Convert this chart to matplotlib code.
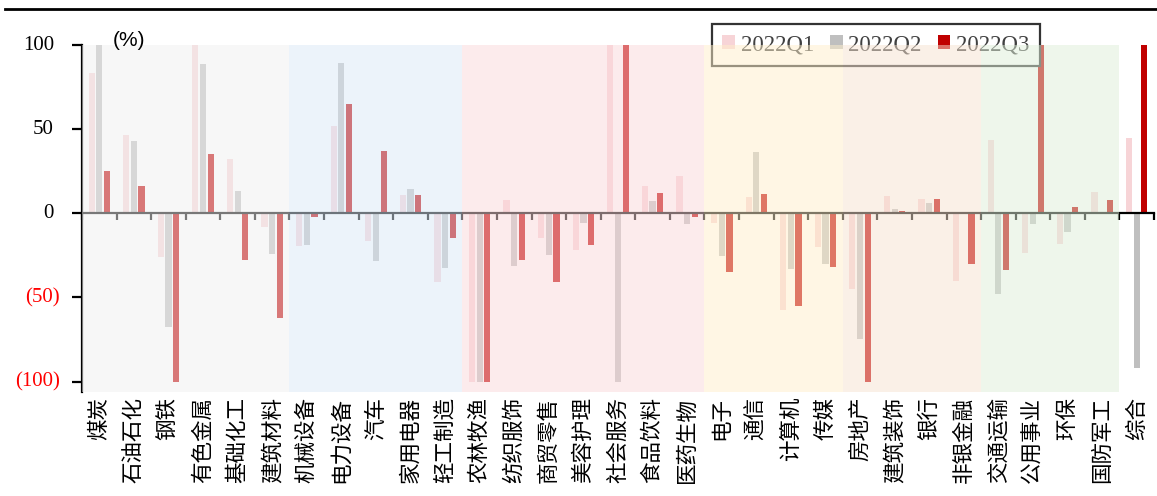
import matplotlib
matplotlib.use("Agg")
import matplotlib.pyplot as plt
import numpy as np
from matplotlib.transforms import blended_transform_factory
from matplotlib.lines import Line2D
from matplotlib.patches import Patch

categories = ["煤炭", "石油石化", "钢铁", "有色金属", "基础化工", "建筑材料",
              "机械设备", "电力设备", "汽车", "家用电器", "轻工制造",
              "农林牧渔", "纺织服饰", "商贸零售", "美容护理", "社会服务", "食品饮料", "医药生物",
              "电子", "通信", "计算机", "传媒",
              "房地产", "建筑装饰", "银行", "非银金融",
              "交通运输", "公用事业", "环保", "国防军工", "综合"]

q1 = [83.2, 46.3, -26.1, 100, 32.3, -7.9,
      -19.2, 51.9, -16.5, 10.7, -41.0,
      -100, 7.9, -14.5, -21.8, 100, 16.2, 22.2,
      -5.9, 9.9, -57.5, -20.0,
      -45.2, 10.5, 8.5, -40.2,
      43.6, -23.4, -18.0, 12.9, 44.9]
q2 = [100, 43.1, -67.4, 88.7, 13.2, -24.0,
      -18.8, 89.1, -28.1, 14.3, -32.7,
      -100, -31.3, -24.6, -5.9, -100, 7.3, -6.5,
      -25.2, 36.4, -33.1, -30.1,
      -74.5, 2.6, 6.3, 0.5,
      -47.8, -6.4, -11.1, 0.6, -92.1]
q3 = [25.3, 16.4, -100, 35.1, -27.9, -62.0,
      -2.4, 64.9, 37.2, 10.7, -14.7,
      -100, -27.7, -41.0, -18.8, 100, 11.9, -2.2,
      -34.7, 11.5, -55.1, -32.1,
      -100, 1.2, 8.5, -29.9,
      -33.9, 100, 3.6, 7.9, 100]

series_names = ["2022Q1", "2022Q2", "2022Q3"]
series_colors = ["#f7d4d7", "#bfbfbf", "#c00000"]

# sector groups: (first index, last index, overlay colour)
groups = [(0, 5, "#f0f0f0"), (6, 10, "#dbe9f7"), (11, 17, "#fbd9db"),
          (18, 21, "#ffefcb"), (22, 25, "#f7e3d1"), (26, 29, "#dfefd9")]

yticks = [100, 50, 0, -50, -100]

W, H = 1157, 496
fig = plt.figure(figsize=(W / 100, H / 100), dpi=100)
ax = fig.add_axes([82 / W, 1 - 392 / H, (1154 - 82) / W, (392 - 45) / H])

x = np.arange(len(categories))
bw = 0.18
step = 0.222
for k, (vals, col) in enumerate(zip([q1, q2, q3], series_colors)):
    ax.bar(x + (k - 1) * step, vals, width=bw, color=col, zorder=3)

ax.set_xlim(-0.5, len(categories) - 0.5)
ax.set_ylim(-106.2, 100)

for a, b, c in groups:
    ax.axvspan(a - 0.5, b + 0.5, color=c, alpha=0.5, lw=0, zorder=6)

for s in ["top", "right"]:
    ax.spines[s].set_visible(False)
ax.spines["bottom"].set_position(("data", 0))
for s in ["left", "bottom"]:
    ax.spines[s].set_color("black")
    ax.spines[s].set_linewidth(1.6)
    ax.spines[s].set_zorder(4)
ax.xaxis.set_zorder(4)
ax.yaxis.set_zorder(4)

ax.set_xticks([])
ax.set_xticks(np.arange(len(categories) + 1) - 0.5, minor=True)
ax.tick_params(axis="x", which="minor", direction="out", length=5, width=1.6,
               color="black", labelbottom=False)
ax.set_yticks(yticks)
ax.set_yticklabels([])
ax.tick_params(axis="y", which="major", direction="out", length=7, width=1.6,
               color="black")

ytr = blended_transform_factory(ax.transAxes, ax.transData)
for v in yticks:
    if v < 0:
        ax.text((60 - 82) / 1072, v, f"({abs(v)})", transform=ytr, ha="right",
                va="center", color="#ff0000", fontsize=15, family="Liberation Serif")
    else:
        ax.text((54 - 82) / 1072, v, f"{v}", transform=ytr, ha="right",
                va="center", color="black", fontsize=15, family="Liberation Serif")

xtr = blended_transform_factory(ax.transData, ax.transAxes)
for i, name in enumerate(categories):
    ax.text(i, -0.014, name, transform=xtr, rotation=90, ha="center", va="top",
            fontsize=15.5, family=["Noto Sans CJK SC", "DejaVu Sans"], color="black")

fig.text(113 / W, 1 - 40 / H, "(%)", ha="left", va="center", fontsize=15,
         family="Liberation Sans", color="black")

fig.add_artist(Line2D([5 / W, 1.0], [1 - 8.5 / H, 1 - 8.5 / H], color="black",
                      lw=2, transform=fig.transFigure))

handles = [Patch(facecolor=c, edgecolor="none") for c in series_colors]
leg = ax.legend(handles, series_names, loc="upper left",
                bbox_to_anchor=(712 / W, 1 - 24 / H), bbox_transform=fig.transFigure,
                borderaxespad=0, ncol=3, frameon=True, fancybox=False, framealpha=1,
                edgecolor="#333333", prop={"family": "Liberation Serif", "size": 16.5},
                handlelength=0.55, handleheight=0.55, handletextpad=0.25,
                columnspacing=0.7, borderpad=0.45, labelcolor="#404040")
leg.get_frame().set_linewidth(1.6)
leg.set_zorder(5)

fig.savefig("out.png", dpi=100)
